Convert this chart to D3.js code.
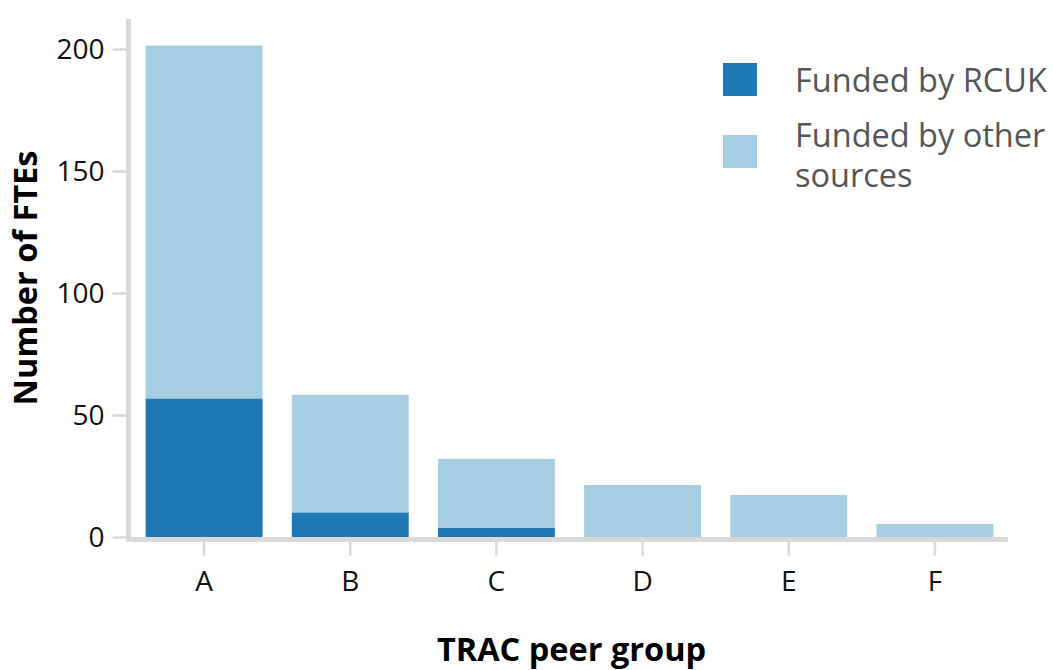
<!DOCTYPE html>
<html>
<head>
<meta charset="utf-8">
<script src="https://cdn.jsdelivr.net/npm/d3@7"></script>
<style>
  html, body { margin: 0; padding: 0; background: #fff; }
  svg { display: block; font-family: "Open Sans", sans-serif; }
</style>
</head>
<body>
<svg id="chart" width="1053" height="670"></svg>
<script>
const categories = ["A", "B", "C", "D", "E", "F"];
const fundedRCUK = [56.8, 10.1, 3.7, 0, 0, 0];
const fundedOther = [144.6, 48.2, 28.3, 21.3, 17.2, 5.3];
const seriesNames = ["Funded by RCUK", "Funded by other sources"];
const seriesColors = ["#1f78b4", "#a6cee3"];
const yTicks = [0, 50, 100, 150, 200];
const xTitle = "TRAC peer group";
const yTitle = "Number of FTEs";

const rows = categories.map((c, i) => ({ cat: c, rcuk: fundedRCUK[i], other: fundedOther[i] }));
const stack = d3.stack().keys(["rcuk", "other"])(rows);

const svg = d3.select("#chart");
const x = d3.scaleBand().domain(categories).range([131, 1008]).paddingInner(0.2).paddingOuter(0.1);
const y = d3.scaleLinear().domain([0, 212.3]).range([537, 19]);
const color = d3.scaleOrdinal().domain(["rcuk", "other"]).range(seriesColors);

// bars
svg.append("g").selectAll("g").data(stack).join("g")
  .attr("fill", d => color(d.key))
  .selectAll("rect").data(d => d).join("rect")
  .attr("x", d => x(d.data.cat))
  .attr("width", x.bandwidth())
  .attr("y", d => y(d[1]))
  .attr("height", d => Math.max(0, y(d[0]) - y(d[1])));

const axisColor = "#d9d9d9";

// y axis
const yAxis = svg.append("g").attr("transform", "translate(128.5,0)")
  .call(d3.axisLeft(y).tickValues(yTicks).tickSize(16).tickPadding(8).tickSizeOuter(0));
yAxis.select(".domain").remove();
yAxis.selectAll(".tick line").attr("stroke", axisColor).attr("stroke-width", 2.5);
yAxis.selectAll(".tick text").attr("font-size", 28).attr("fill", "#111").attr("font-family", "Open Sans").attr("dy", "0.35em");
svg.append("line").attr("x1", 128.5).attr("x2", 128.5).attr("y1", y.range()[1]).attr("y2", 542)
  .attr("stroke", axisColor).attr("stroke-width", 5);

// x axis
const xAxis = svg.append("g").attr("transform", "translate(0,539.5)")
  .call(d3.axisBottom(x).tickSize(16).tickPadding(16).tickSizeOuter(0));
xAxis.select(".domain").remove();
xAxis.selectAll(".tick line").attr("stroke", axisColor).attr("stroke-width", 2.5);
xAxis.selectAll(".tick text").attr("font-size", 28).attr("fill", "#111").attr("font-family", "Open Sans");
svg.append("line").attr("x1", 126).attr("x2", x.range()[1]).attr("y1", 539.5).attr("y2", 539.5)
  .attr("stroke", axisColor).attr("stroke-width", 5);

// titles
svg.append("text").attr("x", (x.range()[0] + x.range()[1]) / 2 + 2).attr("y", 661)
  .attr("text-anchor", "middle").attr("font-size", 32.5).attr("font-weight", "bold").attr("fill", "#000")
  .text(xTitle);
svg.append("text").attr("transform", `translate(37,${(y.range()[0] + y.range()[1]) / 2}) rotate(-90)`)
  .attr("text-anchor", "middle").attr("font-size", 32.5).attr("font-weight", "bold").attr("fill", "#000")
  .text(yTitle);

// legend
const legend = svg.append("g");
const legendItems = [
  { key: "rcuk", lines: ["Funded by RCUK"], sy: 63, ty: [92] },
  { key: "other", lines: ["Funded by other", "sources"], sy: 135, ty: [147, 187] }
];
legendItems.forEach(item => {
  legend.append("rect").attr("x", 723).attr("y", item.sy).attr("width", 34).attr("height", 33)
    .attr("fill", color(item.key));
  const t = legend.append("text").attr("font-size", 32.5).attr("fill", "#555");
  item.lines.forEach((ln, i) => t.append("tspan").attr("x", 795).attr("y", item.ty[i]).text(ln));
});
</script>
</body>
</html>
